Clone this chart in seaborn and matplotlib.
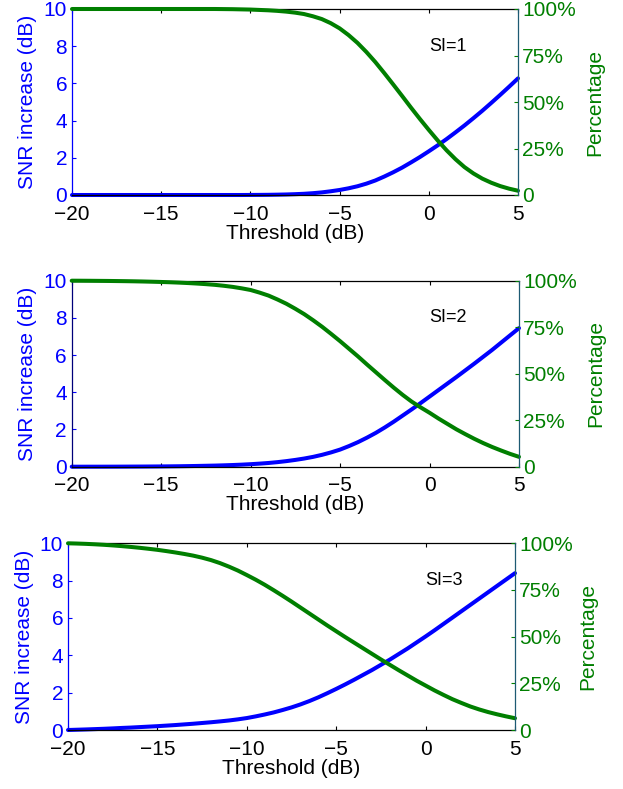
import matplotlib
matplotlib.use("Agg")
import matplotlib.pyplot as plt
import numpy as np
import pandas as pd
import seaborn as sns

# Threshold axis (dB), half-dB steps from -20 to 5
threshold_db = np.arange(-20, 5.25, 0.5).tolist()

# SNR increase (dB) for each SI level
snr_si1 = [0, 0, 0, 0, 0, 0, 0, 0, 0, 0,
           0, 0, 0, 0, 0, 0, 0, 0, 0, 0,
           0.003, 0.006, 0.01, 0.018, 0.028, 0.044, 0.065, 0.097, 0.14, 0.2,
           0.27, 0.36, 0.47, 0.61, 0.78, 0.99, 1.22, 1.47, 1.75, 2.04,
           2.35, 2.67, 3.01, 3.37, 3.74, 4.13, 4.53, 4.95, 5.38, 5.82, 6.27]
snr_si2 = [0, 0, 0.001, 0.001, 0.002, 0.003, 0.005, 0.007, 0.009, 0.012,
           0.015, 0.02, 0.025, 0.032, 0.04, 0.05, 0.06, 0.074, 0.09, 0.11,
           0.135, 0.165, 0.20, 0.245, 0.30, 0.365, 0.44, 0.53, 0.64, 0.77,
           0.92, 1.11, 1.32, 1.56, 1.82, 2.11, 2.42, 2.75, 3.08, 3.42,
           3.77, 4.12, 4.47, 4.82, 5.18, 5.54, 5.91, 6.28, 6.67, 7.06, 7.45]
snr_si3 = [0.0, 0.015, 0.03, 0.047, 0.065, 0.086, 0.11, 0.13, 0.155, 0.18,
           0.205, 0.235, 0.265, 0.30, 0.335, 0.375, 0.415, 0.46, 0.51, 0.57,
           0.64, 0.73, 0.83, 0.94, 1.07, 1.21, 1.37, 1.55, 1.75, 1.97,
           2.20, 2.44, 2.69, 2.95, 3.21, 3.49, 3.77, 4.07, 4.37, 4.69,
           5.01, 5.34, 5.68, 6.02, 6.36, 6.70, 7.04, 7.38, 7.72, 8.06, 8.40]

# Percentage (%) for each SI level
pct_si1 = [100, 100, 100, 100, 100, 100, 100, 100, 100, 100,
           100, 100, 100, 100, 100, 100, 100, 99.95, 99.9, 99.8,
           99.7, 99.5, 99.3, 99.0, 98.6, 98.05, 97.3, 96.1, 94.6, 92.4,
           89.6, 86.0, 81.8, 76.9, 71.5, 65.6, 59.5, 53.3, 47.0, 40.9,
           35.0, 29.3, 24.0, 19.2, 15.0, 11.6, 8.8, 6.6, 4.8, 3.4, 2.3]
pct_si2 = [100, 99.98, 99.95, 99.91, 99.87, 99.81, 99.75, 99.67, 99.57, 99.45,
           99.32, 99.16, 98.97, 98.74, 98.47, 98.15, 97.77, 97.27, 96.67, 95.9,
           95.0, 93.6, 92.0, 89.9, 87.6, 84.9, 82.0, 78.7, 75.2, 71.4,
           67.5, 63.4, 59.3, 55.0, 50.8, 46.6, 42.5, 38.6, 35.0, 31.9,
           29.0, 25.9, 23.0, 20.1, 17.5, 15.0, 12.7, 10.6, 8.7, 6.9, 5.3]
pct_si3 = [100, 99.87, 99.7, 99.47, 99.2, 98.87, 98.5, 98.07, 97.6, 97.07,
           96.5, 95.83, 95.1, 94.3, 93.4, 92.3, 91.0, 89.4, 87.5, 85.4,
           83.0, 80.5, 77.8, 74.9, 71.9, 68.8, 65.6, 62.4, 59.2, 56.0,
           52.9, 49.8, 46.8, 43.8, 40.8, 37.8, 34.9, 32.0, 29.2, 26.4,
           23.8, 21.2, 18.8, 16.5, 14.5, 12.6, 11.0, 9.6, 8.4, 7.3, 6.3]

si_labels = ["SI=1", "SI=2", "SI=3"]
x_ticks = [-20, -15, -10, -5, 0, 5]
snr_ticks = [0, 2, 4, 6, 8, 10]
pct_ticks = [0, 25, 50, 75, 100]
pct_ticklabels = ["0", "25%", "50%", "75%", "100%"]

snr_series = [snr_si1, snr_si2, snr_si3]
pct_series = [pct_si1, pct_si2, pct_si3]

BLUE = "#0000ff"
GREEN = "#007f00"
RIGHT_SPINE = "#1d5a73"

sns.set_style("white")
plt.rcParams["font.family"] = ["Liberation Sans", "DejaVu Sans"]
plt.rcParams["axes.unicode_minus"] = True

W, H = 623, 789
fig = plt.figure(figsize=(W / 100, H / 100), dpi=100)

# panel boxes in pixels: left, top, right, bottom
boxes = [(72, 9, 518, 195), (71.7, 280.7, 519, 466.7), (68, 543.3, 515, 730)]
left_pads = [5, 5, 4]
right_pads = [7, 7, 3.5]
left_spine_colors = [BLUE, "#00007a", BLUE]

for i, (l, t, r, b) in enumerate(boxes):
    ax = fig.add_axes([l / W, 1 - b / H, (r - l) / W, (b - t) / H])
    df = pd.DataFrame({"threshold": threshold_db,
                       "snr": snr_series[i],
                       "pct": pct_series[i]})

    sns.lineplot(data=df, x="threshold", y="snr", ax=ax, color=BLUE,
                 linewidth=2.9, clip_on=False, solid_joinstyle="round")
    ax.set_xlim(-20, 5)
    ax.set_ylim(0, 10)
    ax.set_xticks(x_ticks)
    ax.set_yticks(snr_ticks)
    ax.tick_params(axis="y", colors=BLUE, direction="in", length=3.2,
                   width=0.8, left=True, right=True, labelright=False,
                   pad=3.5, labelsize=15)
    ax.tick_params(axis="x", colors="black", direction="in", length=3.2,
                   width=0.8, bottom=True, top=True, pad=7, labelsize=15)
    ax.set_ylabel("SNR increase (dB)", color=BLUE, fontsize=15,
                  labelpad=left_pads[i])
    ax.set_xlabel("Threshold (dB)", color="black", fontsize=15, labelpad=0)
    for side in ("top", "bottom"):
        ax.spines[side].set_color("black")
        ax.spines[side].set_linewidth(0.9)
    ax.spines["left"].set_color(left_spine_colors[i])
    ax.spines["left"].set_linewidth(0.9)
    ax.spines["right"].set_visible(False)
    ax.text(0, 8, si_labels[i], fontsize=13, ha="left", va="center",
            color="black")

    ax2 = ax.twinx()
    sns.lineplot(data=df, x="threshold", y="pct", ax=ax2, color=GREEN,
                 linewidth=2.9, clip_on=False, solid_joinstyle="round")
    ax2.set_ylim(0, 100)
    ax2.set_yticks(pct_ticks)
    ax2.set_yticklabels(pct_ticklabels)
    ax2.tick_params(axis="y", colors=GREEN, direction="in", length=3.2,
                    width=0.8, pad=3, labelsize=15)
    ax2.set_ylabel("Percentage", color=GREEN, fontsize=15,
                   labelpad=right_pads[i])
    for side in ("top", "bottom", "left"):
        ax2.spines[side].set_visible(False)
    ax2.spines["right"].set_color(RIGHT_SPINE)
    ax2.spines["right"].set_linewidth(0.9)
    ax2.set_xlim(-20, 5)

fig.savefig("out.png", dpi=100)
